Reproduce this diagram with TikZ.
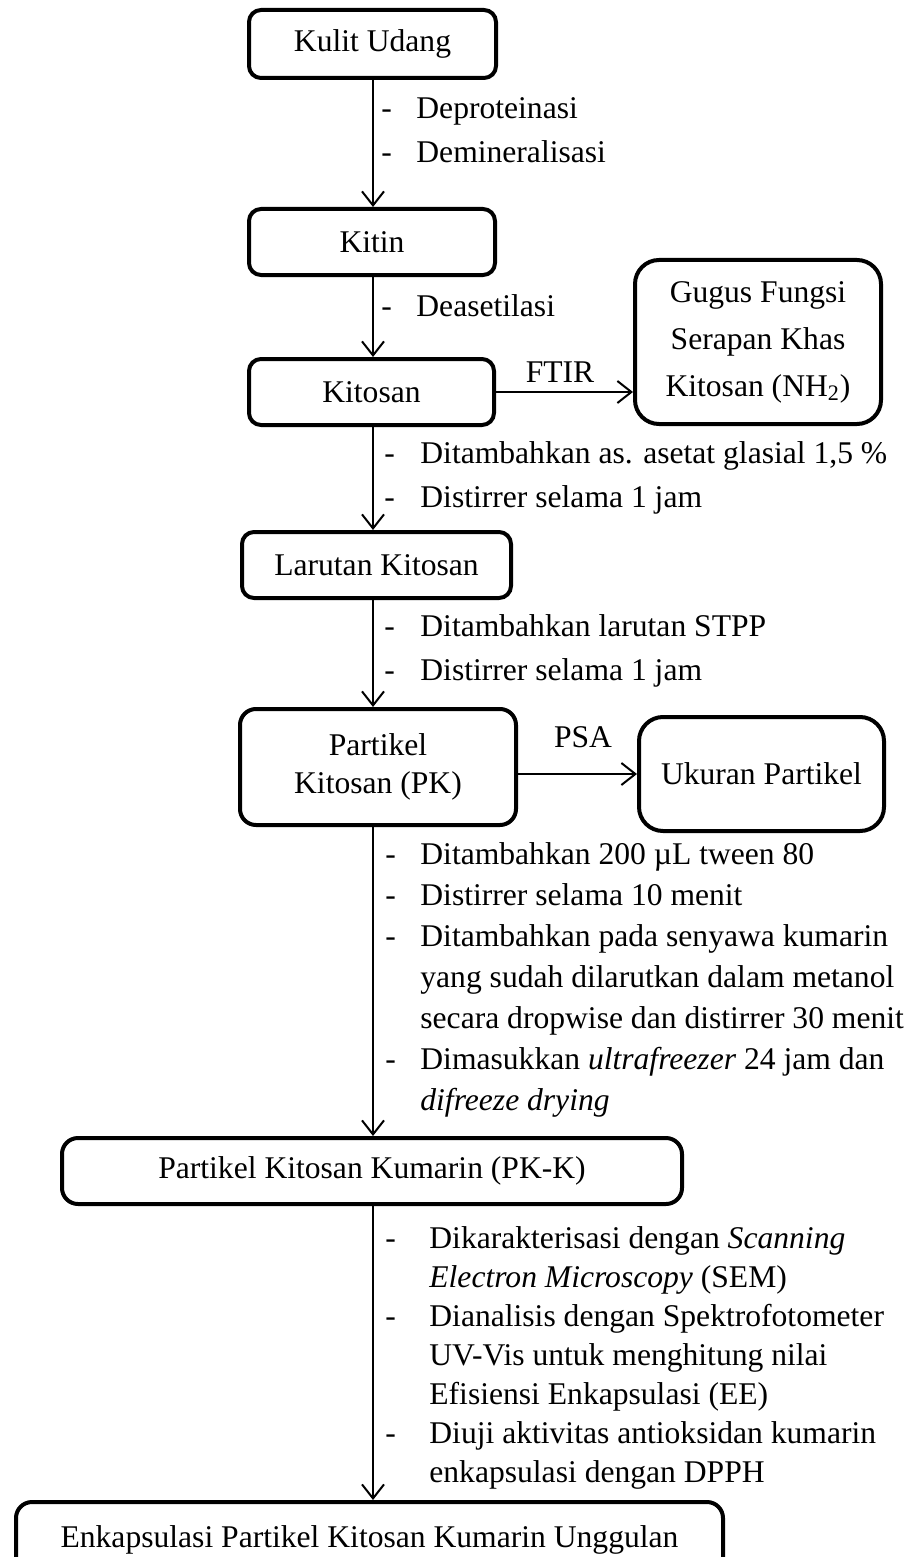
\documentclass[tikz,border=0pt]{standalone}
\usepackage{fontspec}
\setmainfont{Liberation Serif}
\usetikzlibrary{arrows.meta}
\begin{document}
\begin{tikzpicture}[x=0.5pt,y=-0.5pt,
  font=\fontsize{15.8}{19}\selectfont,
  box/.style={draw, line width=2pt, rounded corners=6pt, align=center, inner sep=0pt},
  bigbox/.style={box, rounded corners=12pt},
  arr/.style={line width=1pt, -{Straight Barb[length=7pt,width=11pt,line width=1pt]}},
  lt/.style={anchor=base west, inner sep=0pt},
  lbl/.style={inner sep=0pt}]
\useasboundingbox (0,0) rectangle (916,1557);
\clip (0,0) rectangle (916,1557);
\coordinate (ax) at (373,0);

% boxes
\node[box, minimum width=123.5pt, minimum height=34pt] (kulit) at (372.5,44) {Kulit Udang};
\node[box, minimum width=123pt, minimum height=33pt] (kitin) at (372,242) {Kitin};
\node[box, minimum width=122.5pt, minimum height=33pt] (kitosan) at (371.5,392) {Kitosan};
\node[bigbox, minimum width=123pt, minimum height=82pt, font=\fontsize{15.8}{23.5}\selectfont] (gugus) at (758,342) {Gugus Fungsi\\Serapan Khas\\Kitosan (NH\textsubscript{2})};
\node[box, minimum width=134.5pt, minimum height=33pt] (larutan) at (376.5,565) {Larutan Kitosan};
\node[box, rounded corners=8pt, minimum width=138pt, minimum height=58pt] (pk) at (378,767) {Partikel\\Kitosan (PK)};
\node[bigbox, minimum width=122.5pt, minimum height=57pt] (ukuran) at (761.5,774) {Ukuran Partikel};
\node[box, rounded corners=8pt, minimum width=310pt, minimum height=33pt] (pkk) at (372,1171) {Partikel Kitosan Kumarin (PK-K)};
\node[box, rounded corners=8pt, minimum width=353.5pt, minimum height=38pt] (final) at (369.5,1540) {Enkapsulasi Partikel Kitosan Kumarin Unggulan};

% vertical connectors
\draw[arr] (kulit.south -| ax) -- (kitin.north -| ax);
\draw[arr] (kitin.south -| ax) -- (kitosan.north -| ax);
\draw[arr] (kitosan.south -| ax) -- (larutan.north -| ax);
\draw[arr] (larutan.south -| ax) -- (pk.north -| ax);
\draw[arr] (pk.south -| ax) -- (pkk.north -| ax);
\draw[arr] (pkk.south -| ax) -- (final.north -| ax);

% horizontal connectors
\draw[arr] (kitosan.east) -- (gugus.west |- kitosan.east);
\node[lbl] (ftir) at (560,372) {FTIR};
\draw[arr] (pk.east |- ukuran.west) -- (ukuran.west);
\node[lbl] (psa) at (583,737) {PSA};

% annotations
\node[lt] (d1) at (381,119) {-};
\node[lt] (t1) at (416,119) {Deproteinasi};
\node[lt] (d2) at (381,163) {-};
\node[lt] (t2) at (416,163) {Demineralisasi};

\node[lt] (d3) at (381,316) {-};
\node[lt] (t3) at (416,316) {Deasetilasi};

\node[lt] (d4) at (384,463) {-};
\node[lt] (t4) at (420,463) {Ditambahkan as. asetat glasial 1,5 \%};
\node[lt] (d5) at (384,507) {-};
\node[lt] (t5) at (420,507) {Distirrer selama 1 jam};

\node[lt] (d6) at (384,636) {-};
\node[lt] (t6) at (420,636) {Ditambahkan larutan STPP};
\node[lt] (d7) at (384,680) {-};
\node[lt] (t7) at (420,680) {Distirrer selama 1 jam};

\node[lt] (d8) at (385,864) {-};
\node[lt] (t8) at (420,864) {Ditambahkan 200 µL tween 80};
\node[lt] (d9) at (385,905) {-};
\node[lt] (t9) at (420,905) {Distirrer selama 10 menit};
\node[lt] (d10) at (385,946) {-};
\node[lt] (t10) at (420,946) {Ditambahkan pada senyawa kumarin};
\node[lt] (t11) at (420,987) {yang sudah dilarutkan dalam metanol};
\node[lt] (t12) at (420,1028) {secara dropwise dan distirrer 30 menit};
\node[lt] (d13) at (385,1069) {-};
\node[lt] (t13) at (420,1069) {Dimasukkan \textit{ultrafreezer} 24 jam dan};
\node[lt] (t14) at (420,1110) {\textit{difreeze drying}};

\node[lt] (d15) at (385,1248) {-};
\node[lt] (t15) at (429,1248) {Dikarakterisasi dengan \textit{Scanning}};
\node[lt] (t16) at (429,1287) {\textit{Electron Microscopy} (SEM)};
\node[lt] (d17) at (385,1326) {-};
\node[lt] (t17) at (429,1326) {Dianalisis dengan Spektrofotometer};
\node[lt] (t18) at (429,1365) {UV-Vis untuk menghitung nilai};
\node[lt] (t19) at (429,1404) {Efisiensi Enkapsulasi (EE)};
\node[lt] (d20) at (385,1443) {-};
\node[lt] (t20) at (429,1443) {Diuji aktivitas antioksidan kumarin};
\node[lt] (t21) at (429,1482) {enkapsulasi dengan DPPH};
\end{tikzpicture}
\end{document}
